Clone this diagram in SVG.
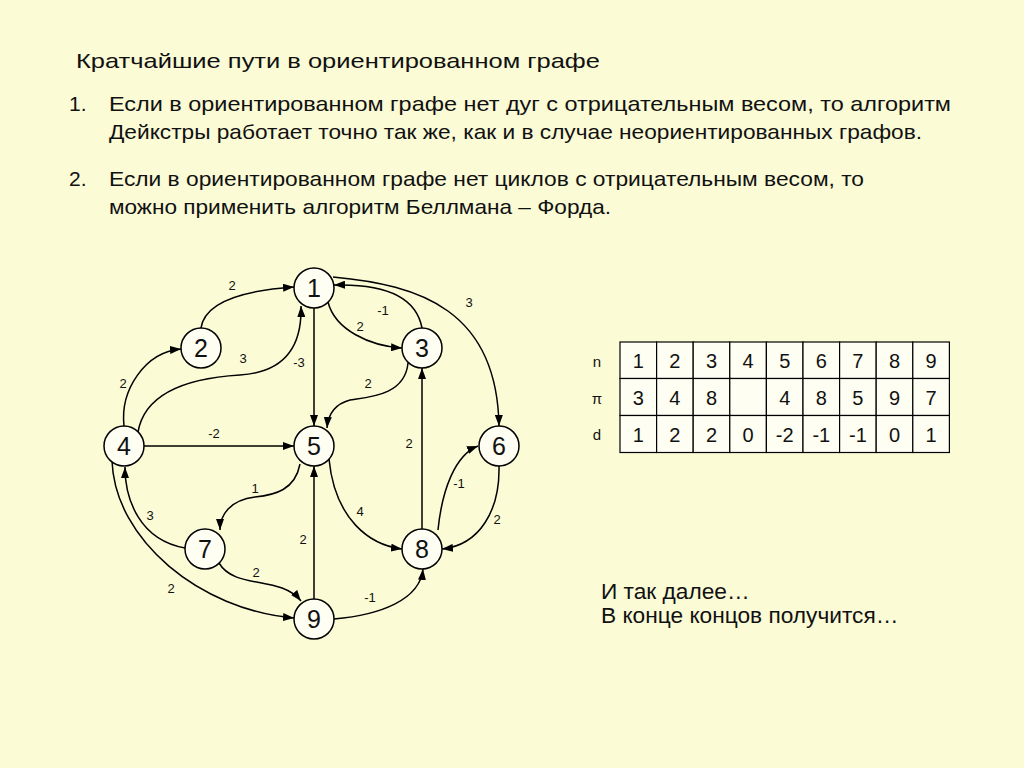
<svg xmlns="http://www.w3.org/2000/svg" width="1024" height="768" viewBox="0 0 1024 768">
<defs>
<marker id="arr" markerUnits="userSpaceOnUse" markerWidth="11" markerHeight="8" refX="11" refY="4" orient="auto">
<path d="M0,0 L11,4 L0,8 z" fill="#000"/>
</marker>
<style>
text{font-family:"Liberation Sans",Arial,sans-serif;fill:#111}
.node circle{fill:#FEFEF3;stroke:#000;stroke-width:1.5}
.node text{font-size:25px;text-anchor:middle}
.edges path{fill:none;stroke:#000;stroke-width:1.5;marker-end:url(#arr)}
.lbl{font-size:13px;text-anchor:middle}
.body{font-size:21px}
.cell{fill:#FEFEF3;stroke:#000;stroke-width:1.2}
.tv{font-size:20px;text-anchor:middle}
.rl{font-size:15px;text-anchor:middle}
.foot{font-size:22.7px}
</style>
</defs>
<rect width="1024" height="768" fill="#FBFBD6"/>

<text class="body" x="76" y="68" textLength="524" lengthAdjust="spacingAndGlyphs">Кратчайшие пути в ориентированном графе</text>
<text class="body" x="69" y="111">1.</text>
<text class="body" x="109" y="111" textLength="842" lengthAdjust="spacingAndGlyphs">Если в ориентированном графе нет дуг с отрицательным весом, то алгоритм</text>
<text class="body" x="109" y="139" textLength="813" lengthAdjust="spacingAndGlyphs">Дейкстры работает точно так же, как и в случае неориентированных графов.</text>
<text class="body" x="69" y="186">2.</text>
<text class="body" x="109" y="186" textLength="755" lengthAdjust="spacingAndGlyphs">Если в ориентированном графе нет циклов с отрицательным весом, то</text>
<text class="body" x="109" y="214" textLength="502" lengthAdjust="spacingAndGlyphs">можно применить алгоритм Беллмана – Форда.</text>

<g class="edges" id="connectors">
<path d="M201,328 C205,300 250,290 294,287"/>
<path d="M124,426 C120,390 145,352 181,349"/>
<path d="M138,432 C145,392 190,378 240,375 C290,372 302,340 301,306"/>
<path d="M314,308 L314,426"/>
<path d="M144,446 L294,446"/>
<path d="M328,302 C335,330 370,346 402,348"/>
<path d="M422,328 C415,290 370,284 334,285"/>
<path d="M333,277 C420,285 497,310 499,426"/>
<path d="M408,363 C405,395 370,397 350,400 C335,404 328,415 327,428"/>
<path d="M422,529 L422,368"/>
<path d="M438,530 C442,490 455,455 478,446"/>
<path d="M499,466 C500,510 480,545 442,549"/>
<path d="M329,459 C335,520 370,545 402,549"/>
<path d="M334,619 C380,615 420,600 423,569"/>
<path d="M314,599 L314,466"/>
<path d="M300,464 C295,490 275,495 255,497 C230,500 220,515 220,530"/>
<path d="M185,548 C140,540 125,500 125,467"/>
<path d="M219,563 C235,590 280,575 301,601"/>
<path d="M112,461 C115,540 200,610 294,618"/>
</g>

<g id="edge-labels">
<text class="lbl" x="232" y="290">2</text>
<text class="lbl" x="123" y="388">2</text>
<text class="lbl" x="243" y="363">3</text>
<text class="lbl" x="299" y="367">-3</text>
<text class="lbl" x="214" y="438">-2</text>
<text class="lbl" x="383" y="315">-1</text>
<text class="lbl" x="360" y="331">2</text>
<text class="lbl" x="469" y="307">3</text>
<text class="lbl" x="368" y="388">2</text>
<text class="lbl" x="409" y="448">2</text>
<text class="lbl" x="459" y="488">-1</text>
<text class="lbl" x="497" y="524">2</text>
<text class="lbl" x="360" y="516">4</text>
<text class="lbl" x="303" y="544">2</text>
<text class="lbl" x="370" y="602">-1</text>
<text class="lbl" x="255" y="493">1</text>
<text class="lbl" x="150" y="520">3</text>
<text class="lbl" x="256" y="577">2</text>
<text class="lbl" x="171" y="593">2</text>
</g>

<g class="node" id="n1"><circle cx="314" cy="288" r="20"/><text x="314" y="297">1</text></g>
<g class="node" id="n2"><circle cx="201" cy="348" r="20"/><text x="201" y="357">2</text></g>
<g class="node" id="n3"><circle cx="422" cy="348" r="20"/><text x="422" y="357">3</text></g>
<g class="node" id="n4"><circle cx="124" cy="446" r="20"/><text x="124" y="455">4</text></g>
<g class="node" id="n5"><circle cx="314" cy="446" r="20"/><text x="314" y="455">5</text></g>
<g class="node" id="n6"><circle cx="499" cy="446" r="20"/><text x="499" y="455">6</text></g>
<g class="node" id="n7"><circle cx="205" cy="549" r="20"/><text x="205" y="558">7</text></g>
<g class="node" id="n8"><circle cx="422" cy="549" r="20"/><text x="422" y="558">8</text></g>
<g class="node" id="n9"><circle cx="314" cy="619" r="20"/><text x="314" y="628">9</text></g>

<g id="table">
<text class="rl" x="597" y="367">n</text>
<text class="rl" x="597" y="404">π</text>
<text class="rl" x="597" y="440">d</text>
<g id="cells">
<rect class="cell" x="620.0" y="342" width="36.6" height="36.5"/><rect class="cell" x="656.6" y="342" width="36.6" height="36.5"/><rect class="cell" x="693.2" y="342" width="36.6" height="36.5"/><rect class="cell" x="729.8" y="342" width="36.6" height="36.5"/><rect class="cell" x="766.4" y="342" width="36.6" height="36.5"/><rect class="cell" x="803.0" y="342" width="36.6" height="36.5"/><rect class="cell" x="839.6" y="342" width="36.6" height="36.5"/><rect class="cell" x="876.2" y="342" width="36.6" height="36.5"/><rect class="cell" x="912.8" y="342" width="36.6" height="36.5"/>
<rect class="cell" x="620.0" y="378.5" width="36.6" height="37"/><rect class="cell" x="656.6" y="378.5" width="36.6" height="37"/><rect class="cell" x="693.2" y="378.5" width="36.6" height="37"/><rect class="cell" x="729.8" y="378.5" width="36.6" height="37"/><rect class="cell" x="766.4" y="378.5" width="36.6" height="37"/><rect class="cell" x="803.0" y="378.5" width="36.6" height="37"/><rect class="cell" x="839.6" y="378.5" width="36.6" height="37"/><rect class="cell" x="876.2" y="378.5" width="36.6" height="37"/><rect class="cell" x="912.8" y="378.5" width="36.6" height="37"/>
<rect class="cell" x="620.0" y="415.5" width="36.6" height="37"/><rect class="cell" x="656.6" y="415.5" width="36.6" height="37"/><rect class="cell" x="693.2" y="415.5" width="36.6" height="37"/><rect class="cell" x="729.8" y="415.5" width="36.6" height="37"/><rect class="cell" x="766.4" y="415.5" width="36.6" height="37"/><rect class="cell" x="803.0" y="415.5" width="36.6" height="37"/><rect class="cell" x="839.6" y="415.5" width="36.6" height="37"/><rect class="cell" x="876.2" y="415.5" width="36.6" height="37"/><rect class="cell" x="912.8" y="415.5" width="36.6" height="37"/>
</g>
<g id="row-n">
<text class="tv" x="638.3" y="368">1</text><text class="tv" x="674.9" y="368">2</text><text class="tv" x="711.5" y="368">3</text><text class="tv" x="748.1" y="368">4</text><text class="tv" x="784.7" y="368">5</text><text class="tv" x="821.3" y="368">6</text><text class="tv" x="857.9" y="368">7</text><text class="tv" x="894.5" y="368">8</text><text class="tv" x="931.1" y="368">9</text>
</g>
<g id="row-pi">
<text class="tv" x="638.3" y="405">3</text><text class="tv" x="674.9" y="405">4</text><text class="tv" x="711.5" y="405">8</text><text class="tv" x="784.7" y="405">4</text><text class="tv" x="821.3" y="405">8</text><text class="tv" x="857.9" y="405">5</text><text class="tv" x="894.5" y="405">9</text><text class="tv" x="931.1" y="405">7</text>
</g>
<g id="row-d">
<text class="tv" x="638.3" y="442">1</text><text class="tv" x="674.9" y="442">2</text><text class="tv" x="711.5" y="442">2</text><text class="tv" x="748.1" y="442">0</text><text class="tv" x="784.7" y="442">-2</text><text class="tv" x="821.3" y="442">-1</text><text class="tv" x="857.9" y="442">-1</text><text class="tv" x="894.5" y="442">0</text><text class="tv" x="931.1" y="442">1</text>
</g>
</g>

<text class="foot" x="601" y="599">И так далее…</text>
<text class="foot" x="601" y="623">В конце концов получится…</text>
</svg>
